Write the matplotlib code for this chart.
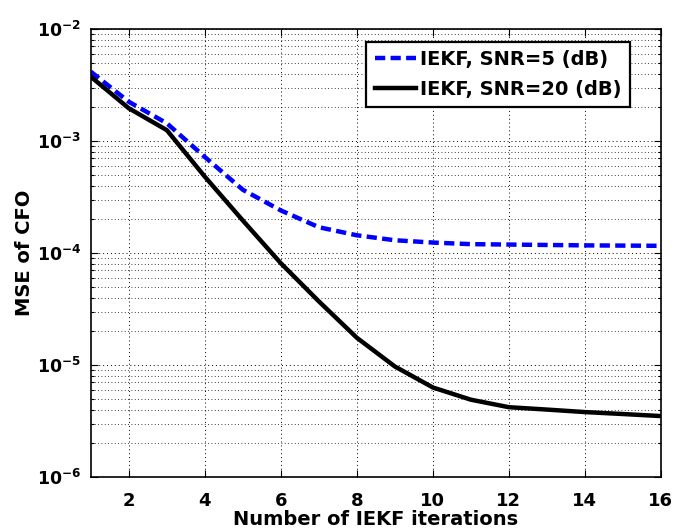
import matplotlib
matplotlib.use("Agg")
import matplotlib.pyplot as plt
from matplotlib.ticker import LogLocator, NullFormatter

plt.rcParams["font.family"] = ["DejaVu Sans"]
plt.rcParams["font.weight"] = "bold"
plt.rcParams["mathtext.fontset"] = "dejavusans"

# ─── data ───
iters = [1, 2, 3, 4, 5, 6, 7, 8, 9, 10, 11, 12, 13, 14, 15, 16]
mse_snr5 = [4.16e-3, 2.24e-3, 1.44e-3, 7.2e-4, 3.67e-4, 2.4e-4, 1.7e-4, 1.44e-4,
            1.3e-4, 1.24e-4, 1.2e-4, 1.19e-4, 1.18e-4, 1.17e-4, 1.165e-4, 1.16e-4]
mse_snr20 = [3.75e-3, 1.96e-3, 1.25e-3, 4.8e-4, 1.95e-4, 8.1e-5, 3.7e-5, 1.75e-5,
             9.7e-6, 6.3e-6, 4.9e-6, 4.2e-6, 4.0e-6, 3.8e-6, 3.65e-6, 3.5e-6]
labels = ["IEKF, SNR=5 (dB)", "IEKF, SNR=20 (dB)"]
xticks = [2, 4, 6, 8, 10, 12, 14, 16]
yticks = [1e-6, 1e-5, 1e-4, 1e-3, 1e-2]
ytick_labels = [r"$\mathbf{10^{-6}}$", r"$\mathbf{10^{-5}}$", r"$\mathbf{10^{-4}}$",
                r"$\mathbf{10^{-3}}$", r"$\mathbf{10^{-2}}$"]

fig = plt.figure(figsize=(6.73, 5.31), dpi=100)
ax = fig.add_axes([0.135, 0.1017, 0.847, 0.8436])

ax.semilogy(iters, mse_snr5, color="#0000ff", ls=(0, (2.3, 1.2)), lw=3.2, label=labels[0])
ax.semilogy(iters, mse_snr20, color="black", ls="-", lw=3.2, label=labels[1])

ax.set_xlim(1, 16)
ax.set_ylim(1e-6, 1e-2)
ax.set_xticks(xticks)
ax.set_xticklabels([str(v) for v in xticks], fontweight="bold", fontsize=13)
ax.set_yticks(yticks)
ax.set_yticklabels(ytick_labels, fontsize=12.5)
ax.yaxis.set_minor_locator(LogLocator(base=10, subs=range(2, 10)))
ax.yaxis.set_minor_formatter(NullFormatter())

ax.tick_params(which="both", direction="in", top=True, right=True, width=0.8)
ax.tick_params(which="major", length=5)
ax.tick_params(which="minor", length=2.5)
ax.tick_params(axis="x", pad=11)
ax.tick_params(axis="y", pad=7)

ax.grid(True, which="major", ls=(0, (1, 3)), color="black", lw=0.7)
ax.grid(True, which="minor", axis="y", ls=(0, (1, 3)), color="black", lw=0.6)
for sp in ax.spines.values():
    sp.set_linewidth(1.2)

ax.set_xlabel("Number of IEKF iterations", fontsize=14, fontweight="bold", labelpad=0)
ax.set_ylabel("MSE of CFO", fontsize=14, fontweight="bold", labelpad=2)

leg = ax.legend(loc="upper right", bbox_to_anchor=(0.9456, 0.971),
                prop={"size": 14, "weight": "bold"}, borderaxespad=0,
                handlelength=2.15, handletextpad=0.2, borderpad=0.42, labelspacing=0.55,
                fancybox=False, framealpha=1, edgecolor="black")
leg.get_frame().set_linewidth(1.6)

fig.savefig("out.png", dpi=100, facecolor="white")
